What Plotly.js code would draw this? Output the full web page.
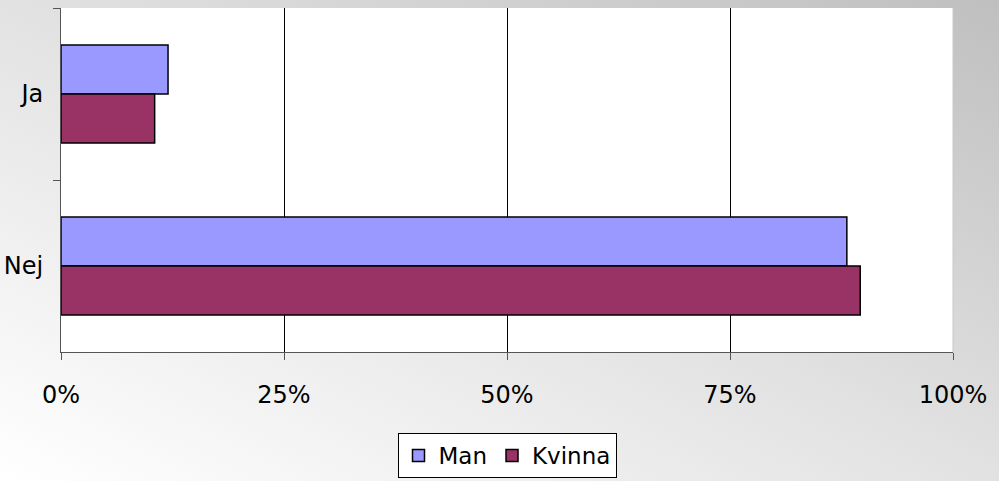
<!DOCTYPE html>
<html>
<head>
<meta charset="utf-8">
<script src="https://cdn.plot.ly/plotly-3.0.1.min.js"></script>
<style>
html,body{margin:0;padding:0;}
body{width:999px;height:481px;background:linear-gradient(to top right,#ffffff 0%,#e2e2e2 50%,#bfbfbf 100%);}
#chart{width:999px;height:481px;}
</style>
</head>
<body>
<div id="chart"></div>
<script>
var categories = ['Ja', 'Nej'];
var manValues = [12.0, 88.1];
var kvinnaValues = [10.5, 89.6];
var xTickValues = [0, 25, 50, 75, 100];
var xTickLabels = ['0%', '25%', '50%', '75%', '100%'];

var font = {family: 'Verdana, "DejaVu Sans", sans-serif', size: 24, color: '#000'};

var traces = [
  {type: 'bar', orientation: 'h', name: 'Man', y: categories, x: manValues,
   marker: {color: '#9999FF', line: {color: '#000', width: 1.5}}},
  {type: 'bar', orientation: 'h', name: 'Kvinna', y: categories, x: kvinnaValues,
   marker: {color: '#993366', line: {color: '#000', width: 1.5}}}
];

var layout = {
  width: 999, height: 481,
  margin: {l: 61, r: 46, t: 8, b: 129, autoexpand: false},
  paper_bgcolor: 'rgba(0,0,0,0)',
  plot_bgcolor: '#ffffff',
  font: font,
  barmode: 'group',
  bargap: 0.43,
  bargroupgap: 0,
  showlegend: true,
  legend: {orientation: 'h', x: 0.5, xanchor: 'center', y: -0.2355, yanchor: 'top',
           bgcolor: '#ffffff', bordercolor: '#000', borderwidth: 1,
           font: {family: font.family, size: 23, color: '#000'},
           traceorder: 'normal', itemwidth: 30, tracegroupgap: 0},
  xaxis: {range: [0, 100], tickvals: xTickValues, ticktext: xTickLabels,
          showgrid: true, gridcolor: '#000', gridwidth: 1, automargin: false,
          zeroline: false, showline: true, linecolor: '#555', linewidth: 1,
          ticks: 'outside', ticklen: 7, tickcolor: '#555', ticklabelstandoff: 14,
          fixedrange: true},
  yaxis: {autorange: 'reversed', type: 'category', tickson: 'boundaries', automargin: false,
          showgrid: false, zeroline: false, showline: true, linecolor: '#555', linewidth: 1,
          ticks: 'outside', ticklen: 7, tickcolor: '#555', ticklabelstandoff: 12,
          fixedrange: true},
  shapes: [{type: 'line', xref: 'paper', yref: 'paper', x0: 1, x1: 1, y0: 0, y1: 1,
            line: {color: '#c8c8c8', width: 1}}]
};

Plotly.newPlot('chart', traces, layout, {displayModeBar: false, staticPlot: true});
</script>
</body>
</html>
